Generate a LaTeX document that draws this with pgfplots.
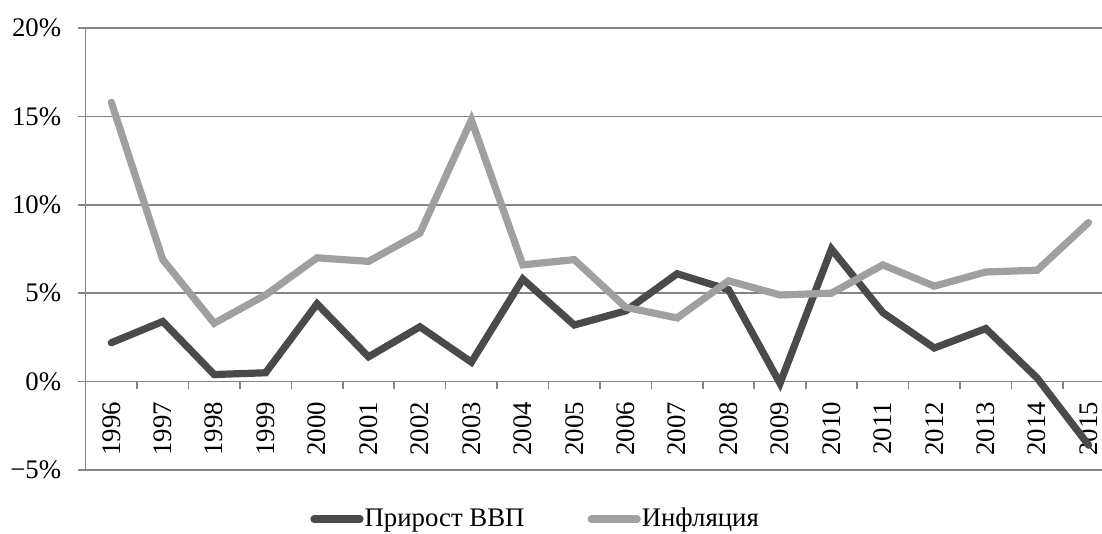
\documentclass[border=0pt]{standalone}
\usepackage{pgfplots}
\pgfplotsset{compat=1.18}
\usepackage{fontspec}
\setmainfont{Liberation Serif}
\definecolor{gdp}{HTML}{4A4A4A}
\definecolor{infl}{HTML}{A0A0A0}
\definecolor{gridc}{HTML}{858585}
\begin{document}
\begin{tikzpicture}
\begin{axis}[
  at={(0,0)}, anchor=south west,
  scale only axis,
  width=508.2pt, height=221pt,
  xmin=-0.5, xmax=19.26,
  ymin=-5, ymax=20,
  axis x line*=middle,
  axis y line*=left,
  axis line style={draw=gridc, line width=0.8pt},
  ytick={-5,0,5,10,15,20},
  yticklabels={−5\%,0\%,5\%,10\%,15\%,20\%},
  ymajorgrids,
  major grid style={draw=gridc, line width=0.8pt},
  xtick={0,...,19},
  xticklabels={1996,1997,1998,1999,2000,2001,2002,2003,2004,2005,2006,2007,2008,2009,2010,2011,2012,2013,2014,2015},
  minor xtick={0.5,1.5,...,18.5},
  tick align=outside,
  xtick style={draw=none},
  minor x tick style={draw=gridc, line width=0.8pt},
  minor tick length=3.5pt,
  ytick style={draw=gridc, line width=0.8pt},
  major tick length=4pt,
  font=\fontsize{13.4}{15}\selectfont,
  xticklabel style={anchor=east, inner sep=0pt, yshift=-6pt, rotate=90},
  yticklabel style={anchor=east, inner sep=0pt, xshift=-8pt},
  legend columns=2,
  legend style={draw=none, fill=none, at={(axis description cs:0.2208,-0.111)}, anchor=west, inner sep=0pt,
    nodes={inner sep=0.5pt},
    /tikz/every even column/.append style={column sep=31pt}},
  legend image code/.code={\draw[#1, line cap=round] (0pt,0pt) -- (23pt,0pt);},
]
\addplot[gdp, line width=3.6pt, line cap=round, mark=none] coordinates {
(0,2.2)(1,3.4)(2,0.4)(3,0.5)(4,4.4)(5,1.4)(6,3.1)(7,1.1)(8,5.8)(9,3.2)
(10,4.0)(11,6.1)(12,5.2)(13,-0.1)(14,7.5)(15,3.9)(16,1.9)(17,3.0)(18,0.2)(19,-3.6)};
\addlegendentry{Прирост ВВП}
\addplot[infl, line width=3.6pt, line cap=round, mark=none] coordinates {
(0,15.8)(1,6.9)(2,3.3)(3,4.9)(4,7.0)(5,6.8)(6,8.4)(7,14.8)(8,6.6)(9,6.9)
(10,4.2)(11,3.6)(12,5.7)(13,4.9)(14,5.0)(15,6.6)(16,5.4)(17,6.2)(18,6.3)(19,9.0)};
\addlegendentry{Инфляция}
\end{axis}
\pgfresetboundingbox
\useasboundingbox (-42.8pt,-32pt) rectangle (508.2pt,235pt);
\end{tikzpicture}
\end{document}
